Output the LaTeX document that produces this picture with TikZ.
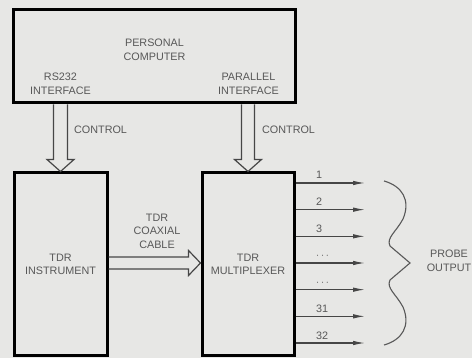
\documentclass[tikz,border=0pt]{standalone}
\usepackage{fontspec}
\setmainfont{Liberation Sans}
\usetikzlibrary{arrows.meta,calc}
\definecolor{paper}{RGB}{231,231,229}
\definecolor{ink}{RGB}{88,88,88}

\begin{document}
\begin{tikzpicture}[x=1pt, y=-1pt, font=\fontsize{10.8}{13.5}\selectfont,
    box/.style={draw, line width=3pt, fill=paper, align=center, text=ink},
    lbl/.style={text=ink, align=center, inner sep=0pt},
    hollow/.style={draw=ink!80!black, line width=1.2pt, line join=miter},
    outline/.style={draw=ink!80!black, line width=1.1pt, -{Latex[length=12pt, width=4.5pt]}}]
  \fill[paper] (0,0) rectangle (472,358);
  \useasboundingbox (0,0) rectangle (472,358);

  % blocks
  \node[box, minimum width=282pt, minimum height=93pt] (pc) at (154.5,56.5) {};
  \node[lbl] (pcname) at (154.5,50) {PERSONAL\\COMPUTER};
  \node[lbl] (rs) at (60.5,84) {RS232\\INTERFACE};
  \node[lbl] (par) at (248.5,84) {PARALLEL\\INTERFACE};
  \node[box, minimum width=93pt, minimum height=183pt] (instr) at (60.5,264.5) {TDR\\INSTRUMENT};
  \node[box, minimum width=92pt, minimum height=183pt] (mux) at (248,264.5) {TDR\\MULTIPLEXER};

  % control arrows
  \coordinate (ra) at (instr.north |- pc.south);
  \coordinate (rb) at (instr.north);
  \draw[hollow] ($(ra)+(-7,0)$) -- ($(rb)+(-7,-12)$) -- ($(rb)+(-13.5,-12)$) -- (rb)
    -- ($(rb)+(13.5,-12)$) -- ($(rb)+(7,-12)$) -- ($(ra)+(7,0)$);
  \node[lbl, anchor=west] (ctrl1) at (74,130) {CONTROL};
  \coordinate (pa) at (mux.north |- pc.south);
  \coordinate (pb) at (mux.north);
  \draw[hollow] ($(pa)+(-6.5,0)$) -- ($(pb)+(-6.5,-12)$) -- ($(pb)+(-13.5,-12)$) -- (pb)
    -- ($(pb)+(13.5,-12)$) -- ($(pb)+(6.5,-12)$) -- ($(pa)+(6.5,0)$);
  \node[lbl, anchor=west] (ctrl2) at (262,130) {CONTROL};

  % coaxial cable
  \coordinate (ca) at (instr.east |- 0,263);
  \coordinate (cb) at (mux.west |- 0,263);
  \draw[hollow] ($(ca)+(0,-6)$) -- ($(cb)+(-12,-6)$) -- ($(cb)+(-12,-12.5)$) -- (cb)
    -- ($(cb)+(-12,12.5)$) -- ($(cb)+(-12,6)$) -- ($(ca)+(0,6)$);
  \node[lbl] (coax) at (157,231) {TDR\\COAXIAL\\CABLE};

  % probe outputs
  \foreach \lab [count=\i from 0] in {1,2,3,{$\cdots$},{$\cdots$},31,32} {
    \coordinate (o\i) at (365,{263+(\i-3)*26.67});
    \draw[outline] (mux.east |- o\i) -- (o\i);
    \node[lbl, anchor=base west] (n\i) at ($(316,0)+(0,{263+(\i-3)*26.67-4})$) {\lab};
  }

  % brace
  \draw[ink, line width=1.1pt] (384,181) .. controls (402,186) and (411,200) .. (403,219)
    .. controls (396,232) and (386,238) .. (390,246) -- (410,263) -- (390,280)
    .. controls (386,288) and (396,294) .. (403,307)
    .. controls (411,326) and (402,340) .. (384,345);
  \node[lbl] (probe) at (449,261) {PROBE\\OUTPUT};
\end{tikzpicture}
\end{document}
